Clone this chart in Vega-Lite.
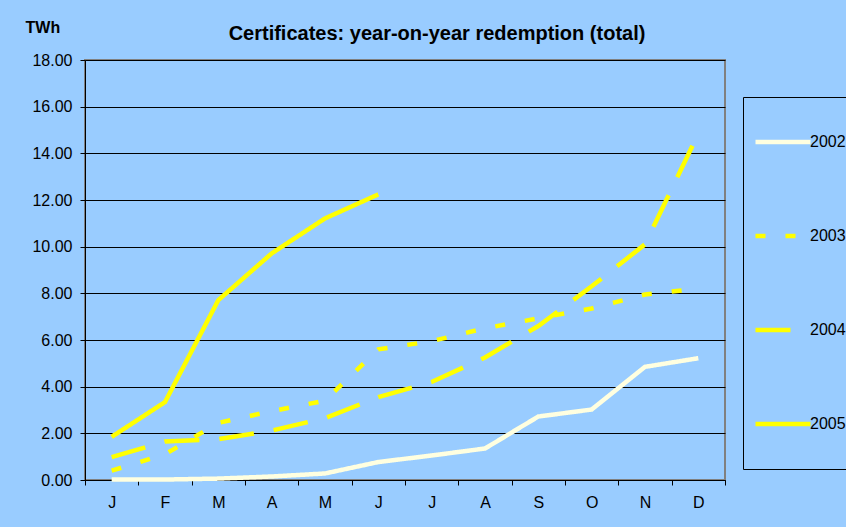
{
  "$schema": "https://vega.github.io/schema/vega-lite/v6.json",
  "width": 640,
  "height": 420,
  "autosize": {"type": "none"},
  "padding": {"left": 85, "top": 60, "right": 121, "bottom": 47},
  "background": "#99CCFF",
  "config": {
    "font": "Liberation Sans",
    "view": {"fill": "#99CCFF", "stroke": "#808080", "strokeWidth": 2},
    "title": {"color": "black", "fontSize": 20, "fontWeight": "bold", "font": "Liberation Sans"}
  },
  "title": {
    "text": "Certificates: year-on-year redemption (total)",
    "orient": "top",
    "anchor": "middle",
    "dx": 32,
    "offset": -25
  },
  "data": {
    "values": [
      {"year": "2002", "month": "Jan", "value": 0.02},
      {"year": "2002", "month": "Feb", "value": 0.02},
      {"year": "2002", "month": "Mar", "value": 0.06},
      {"year": "2002", "month": "Apr", "value": 0.15},
      {"year": "2002", "month": "May", "value": 0.28},
      {"year": "2002", "month": "Jun", "value": 0.77},
      {"year": "2002", "month": "Jul", "value": 1.05},
      {"year": "2002", "month": "Aug", "value": 1.35},
      {"year": "2002", "month": "Sep", "value": 2.72},
      {"year": "2002", "month": "Oct", "value": 3.02},
      {"year": "2002", "month": "Nov", "value": 4.85},
      {"year": "2002", "month": "Dec", "value": 5.22},
      {"year": "2003", "month": "Jan", "value": 0.4},
      {"year": "2003", "month": "Feb", "value": 1.1},
      {"year": "2003", "month": "Mar", "value": 2.45},
      {"year": "2003", "month": "Apr", "value": 2.95},
      {"year": "2003", "month": "May", "value": 3.4},
      {"year": "2003", "month": "Jun", "value": 5.6},
      {"year": "2003", "month": "Jul", "value": 5.95},
      {"year": "2003", "month": "Aug", "value": 6.5},
      {"year": "2003", "month": "Sep", "value": 6.93},
      {"year": "2003", "month": "Oct", "value": 7.35},
      {"year": "2003", "month": "Nov", "value": 7.95},
      {"year": "2003", "month": "Dec", "value": 8.2},
      {"year": "2004", "month": "Jan", "value": 0.98},
      {"year": "2004", "month": "Feb", "value": 1.65},
      {"year": "2004", "month": "Mar", "value": 1.75},
      {"year": "2004", "month": "Apr", "value": 2.12},
      {"year": "2004", "month": "May", "value": 2.65},
      {"year": "2004", "month": "Jun", "value": 3.55},
      {"year": "2004", "month": "Jul", "value": 4.2},
      {"year": "2004", "month": "Aug", "value": 5.25},
      {"year": "2004", "month": "Sep", "value": 6.6},
      {"year": "2004", "month": "Oct", "value": 8.3},
      {"year": "2004", "month": "Nov", "value": 10.1},
      {"year": "2004", "month": "Dec", "value": 14.85},
      {"year": "2005", "month": "Jan", "value": 1.85},
      {"year": "2005", "month": "Feb", "value": 3.34},
      {"year": "2005", "month": "Mar", "value": 7.71},
      {"year": "2005", "month": "Apr", "value": 9.71},
      {"year": "2005", "month": "May", "value": 11.21},
      {"year": "2005", "month": "Jun", "value": 12.24}
    ]
  },
  "mark": {"type": "line", "strokeWidth": 4.5, "strokeCap": "butt", "strokeJoin": "miter"},
  "encoding": {
    "x": {
      "field": "month",
      "type": "ordinal",
      "sort": ["Jan","Feb","Mar","Apr","May","Jun","Jul","Aug","Sep","Oct","Nov","Dec"],
      "scale": {"type": "band", "paddingInner": 0, "paddingOuter": 0},
      "bandPosition": 0.5,
      "axis": {
        "title": null,
        "tickBand": "extent",
        "labelExpr": "substring(datum.label, 0, 1)",
        "labelAngle": 0,
        "labelFontSize": 16,
        "labelFont": "Liberation Sans",
        "labelColor": "black",
        "labelPadding": 9,
        "tickSize": 5,
        "tickColor": "black",
        "domainColor": "black",
        "grid": false
      }
    },
    "y": {
      "field": "value",
      "type": "quantitative",
      "scale": {"domain": [0, 18], "nice": false},
      "axis": {
        "values": [0, 2, 4, 6, 8, 10, 12, 14, 16, 18],
        "format": ".2f",
        "title": "TWh",
        "titleAngle": 0,
        "titleX": -60,
        "titleY": -33,
        "titleAlign": "left",
        "titleBaseline": "middle",
        "titleFontSize": 16,
        "titleFontWeight": "bold",
        "titleFont": "Liberation Sans",
        "titleColor": "black",
        "labelFontSize": 16,
        "labelFont": "Liberation Sans",
        "labelColor": "black",
        "labelPadding": 8,
        "tickSize": 5,
        "tickColor": "black",
        "domainColor": "black",
        "grid": true,
        "gridColor": "black",
        "gridWidth": 1
      }
    },
    "color": {
      "field": "year",
      "type": "nominal",
      "scale": {"domain": ["2002","2003","2004","2005"], "range": ["#FFFFE0","#FFFF00","#FFFF00","#FFFF00"]},
      "legend": {
        "title": null,
        "orient": "none",
        "legendX": 658,
        "legendY": 37,
        "strokeColor": "black",
        "fillColor": "#99CCFF",
        "padding": 10,
        "symbolType": "stroke",
        "symbolSize": 3025,
        "symbolStrokeWidth": 4.5,
        "clipHeight": 70,
        "rowPadding": 24,
        "labelFontSize": 16,
        "labelFont": "Liberation Sans",
        "labelColor": "black",
        "labelOffset": -3
      }
    },
    "strokeDash": {
      "field": "year",
      "type": "nominal",
      "scale": {"domain": ["2002","2003","2004","2005"], "range": [[1,0],[10,20],[35,20],[1,0]]},
      "legend": {
        "title": null,
        "orient": "none",
        "legendX": 658,
        "legendY": 37,
        "strokeColor": "black",
        "fillColor": "#99CCFF",
        "padding": 10,
        "symbolType": "stroke",
        "symbolSize": 3025,
        "symbolStrokeWidth": 4.5,
        "clipHeight": 70,
        "rowPadding": 24,
        "labelFontSize": 16,
        "labelFont": "Liberation Sans",
        "labelColor": "black",
        "labelOffset": -3
      }
    }
  }
}
